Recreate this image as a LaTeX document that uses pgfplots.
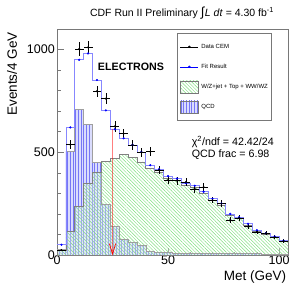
\documentclass[border=0pt]{standalone}
\usepackage{fontspec}
\setmainfont{Liberation Sans}
\usepackage{pgfplots}
\pgfplotsset{compat=1.18}
\usepackage{pgfplotstable}
\usetikzlibrary{patterns.meta,calc}

\definecolor{fitblue}{RGB}{135,135,255}
\definecolor{hgreen}{RGB}{125,224,125}
\definecolor{qcdfill}{RGB}{218,220,253}
\definecolor{qcdline}{RGB}{118,118,245}
\definecolor{frame}{RGB}{120,120,120}

\pgfplotstableread{
lo  c   data err fit green qcd
0   2   24   5   50  22  28
4   6   537  23  621 113 506
8   10  1003 32  950 238 709
12  14  1011 32  981 350 634
16  18  797  28  852 404 451
20  22  761  28  704 456 246
24  26  626  25  612 469 141
28  30  591  24  568 490 76
32  34  536  23  536 474 62
36  38  500  22  502 453 48
40  42  503  22  437 421 17
44  46  413  20  418 404 12
48  50  364  19  384 374 11
52  54  362  19  372 363 9
56  58  355  19  350 341 8
60  62  322  18  337 329 8
64  66  331  18  308 302 6
68  70  267  16  274 267 6
72  74  250  16  251 243 8
76  78  170  13  200 194 6
80  82  180  13  184 178 6
84  86  138  12  152 146 6
88  90  113  11  121 113 8
92  94  105  10  106 102 4
96  98  86   9   90  86  4
100 102 68   8   69  65  4
104 106 68   8   69  65  4
}\histdata

\begin{document}
\begin{tikzpicture}
\begin{axis}[
  name=ax,
  scale only axis, width=231pt, height=226pt,
  xmin=0, xmax=104, ymin=0, ymax=1100,
  axis line style={frame, line width=0.6pt},
  tick style={frame, line width=0.5pt},
  tick align=inside,
  xtick pos=left, ytick pos=left,
  xtick={0,50,100}, minor xtick={10,20,30,40,60,70,80,90},
  ytick={0,500,1000}, minor ytick={100,200,300,400,600,700,800,900},
  major tick length=7pt, minor tick length=3.5pt,
  scaled ticks=false,
  /pgf/number format/assume math mode=true,
  /pgf/number format/1000 sep={},
  ticklabel style={font=\fontsize{12.5}{12.5}\selectfont},
  xticklabel style={inner sep=0pt, yshift=-1pt},
  yticklabel style={inner sep=0pt, xshift=-2pt},
  legend cell align=left,
  legend style={at={(rel axis cs:0.519,0.982)}, anchor=north west,
    draw=frame, line width=0.5pt, fill=white,
    font=\fontsize{6}{7}\selectfont,
    inner xsep=3pt, inner ysep=3.5pt, row sep=0pt,
    nodes={inner sep=0pt}},
]
\addlegendimage{legend image code/.code={\path[draw=none,fill=none] (0pt,-10pt) rectangle (21pt,10pt); \draw[black, line width=0.5pt] (0pt,0pt) -- (18pt,0pt); \fill[black] (9pt,0pt) circle (0.9pt);}}
\addlegendentry{Data CEM}
\addlegendimage{legend image code/.code={\path[draw=none,fill=none] (0pt,-10pt) rectangle (21pt,10pt); \draw[blue, line width=0.5pt] (0pt,0pt) -- (18pt,0pt); \fill[blue] (9pt,0pt) circle (0.9pt);}}
\addlegendentry{Fit Result}
\addlegendimage{legend image code/.code={\path[draw=none,fill=none] (0pt,-10pt) rectangle (21pt,10pt); \draw[frame, line width=0.5pt, fill=white, postaction={pattern={Lines[angle=-45,distance=2.4pt,line width=0.45pt]}, pattern color=hgreen}] (0pt,-6pt) rectangle (18pt,6pt);}}
\addlegendentry{W/Z+jet + Top + WW/WZ}
\addlegendimage{legend image code/.code={\path[draw=none,fill=none] (0pt,-10pt) rectangle (21pt,10pt); \draw[frame, line width=0.5pt, fill=qcdfill, postaction={pattern={Lines[angle=90,distance=2.7pt,line width=0.45pt]}, pattern color=qcdline}] (0pt,-6pt) rectangle (18pt,6pt);}}
\addlegendentry{QCD}

% QCD
\addplot[const plot, draw=none, fill=qcdfill, postaction={pattern={Lines[angle=90,distance=2.7pt,line width=0.45pt]}, pattern color=qcdline}, forget plot]
  table[x=lo, y=qcd]{\histdata} \closedcycle;
% W/Z + jets
\addplot[const plot, draw=none, fill=white, fill opacity=0.35, postaction={fill opacity=1, pattern={Lines[angle=-45,distance=2.4pt,line width=0.45pt]}, pattern color=hgreen}, forget plot]
  table[x=lo, y=green]{\histdata} \closedcycle;
% outlines
\addplot[const plot, draw=gray!75, line width=0.6pt, forget plot]
  table[x=lo, y=qcd]{\histdata} \closedcycle;
\addplot[const plot, draw=gray, line width=0.7pt, forget plot]
  table[x=lo, y=green]{\histdata} \closedcycle;
% fit
\addplot[const plot, draw=fitblue, line width=0.7pt, forget plot]
  table[x=lo, y=fit]{\histdata};
\addplot[only marks, mark=*, mark size=0.9pt, blue, skip coords between index={26}{27}, forget plot]
  table[x=c, y=fit]{\histdata};
% data
\addplot[only marks, mark=*, mark size=0.8pt, black, skip coords between index={26}{27}, forget plot,
  error bars/.cd, y dir=both, y explicit, x dir=both, x fixed=2, error mark=none,
  error bar style={black, line width=0.5pt}]
  table[x=c, y=data, y error=err]{\histdata};
% cut arrow
\addplot[red, opacity=0.5, line width=1.2pt, forget plot] coordinates {(25,615) (25,3)};
\addplot[red, line width=0.7pt, forget plot] coordinates {(23.6,55) (25,4) (26.4,55)};

\node[font=\bfseries\fontsize{10.7}{12}\selectfont] at (axis cs:33.3,915) {ELECTRONS};
\node[anchor=west, font=\fontsize{10.7}{12}\selectfont, inner sep=0pt] at (axis cs:60.6,551) {χ\textsuperscript{2}/ndf = 42.42/24};
\node[anchor=west, font=\fontsize{10.7}{12}\selectfont, inner sep=0pt] at (axis cs:60.6,487) {QCD frac = 6.98};
\end{axis}
\node[font=\fontsize{10.5}{12}\selectfont, inner sep=0pt] at ($(ax.north west)+(125pt,16pt)$)
  {CDF Run II Preliminary {\fontsize{13}{13}\selectfont ∫}\kern0.5pt\textit{L dt} = 4.30 fb\textsuperscript{-1}};
\node[rotate=90, anchor=center, inner sep=0pt, font=\fontsize{13.5}{14}\selectfont] at ($(ax.north west)+(-45pt,-45pt)$) {Events/4 GeV};
\node[anchor=center, inner sep=0pt, font=\fontsize{13.5}{14}\selectfont] at ($(ax.south east)+(-33pt,-22pt)$) {Met (GeV)};
\pgfresetboundingbox
\path[use as bounding box] ($(ax.south west)+(-57pt,-29pt)$) rectangle ($(ax.north east)+(1pt,29pt)$);
\end{tikzpicture}
\end{document}
